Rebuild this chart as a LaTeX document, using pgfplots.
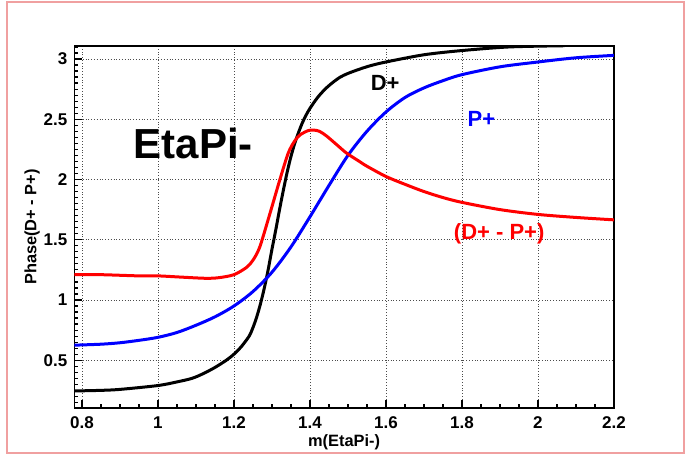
\documentclass[border=0pt]{standalone}
\usepackage{fontspec}
\setmainfont{Liberation Sans}
\usepackage{pgfplots}
\pgfplotsset{compat=1.18}
\definecolor{framepink}{RGB}{240,160,160}
\begin{document}
\begin{tikzpicture}
\begin{axis}[
    scale only axis,
    width=269.85pt, height=181pt,
    xmin=0.78, xmax=2.2,
    ymin=0.104, ymax=3.108,
    xtick={0.8,1,1.2,1.4,1.6,1.8,2,2.2},
    ytick={0.5,1,1.5,2,2.5,3},
    minor xtick={0.8,0.85,...,2.2},
    minor ytick={0.15,0.2,...,3.1},
    tick pos=left,
    tick align=inside,
    major tick length=4pt, minor tick length=2pt,
    tick style={black, line width=0.6pt},
    axis line style={line width=0.8pt},
    grid=major,
    grid style={densely dotted, black!70, line width=0.4pt},
    /pgf/number format/assume math mode=true,
    tick label style={font=\bfseries\fontsize{8.5}{10}\selectfont},
    xticklabel style={yshift=-1pt},
    xlabel={m(EtaPi-)},
    ylabel={Phase(D+ - P+)},
    xlabel style={font=\bfseries\fontsize{8.2}{9}\selectfont, at={(axis description cs:0.5,-0.095)}, anchor=center},
    ylabel style={font=\bfseries\fontsize{8.2}{9}\selectfont, at={(axis description cs:-0.078,0.5)}, anchor=center, rotate=0},
]
% D+ (black)
\addplot[black, line width=1.5pt, smooth] coordinates {
    (0.78,0.245) (0.85,0.25) (0.9,0.258) (1.0,0.29) (1.05,0.32) (1.09,0.35)
    (1.12,0.39) (1.15,0.44) (1.18,0.50) (1.2,0.55) (1.22,0.615) (1.24,0.70)
    (1.25,0.77) (1.26,0.86) (1.27,0.97) (1.28,1.10) (1.29,1.25) (1.30,1.42)
    (1.31,1.58) (1.32,1.75) (1.33,1.91) (1.34,2.06) (1.35,2.19) (1.36,2.30)
    (1.37,2.39) (1.38,2.47) (1.39,2.535) (1.40,2.59) (1.42,2.68) (1.44,2.75)
    (1.46,2.805) (1.48,2.85) (1.50,2.88) (1.53,2.915) (1.56,2.945) (1.6,2.975)
    (1.7,3.035) (1.8,3.07) (1.925,3.10) (2.07,3.11)
};
% P+ (blue)
\addplot[blue, line width=1.5pt, smooth] coordinates {
    (0.78,0.625) (0.85,0.633) (0.9,0.645) (0.95,0.665) (1.0,0.69) (1.05,0.73)
    (1.1,0.79) (1.15,0.86) (1.2,0.95) (1.25,1.07) (1.3,1.23) (1.35,1.44)
    (1.4,1.69) (1.45,1.95) (1.5,2.2) (1.55,2.4) (1.6,2.56) (1.65,2.68)
    (1.7,2.76) (1.75,2.82) (1.8,2.87) (1.9,2.935) (2.0,2.975) (2.1,3.01) (2.2,3.03)
};
% D+ - P+ (red)
\addplot[red, line width=1.5pt, smooth] coordinates {
    (0.78,1.21) (0.85,1.21) (0.95,1.2) (1.0,1.2) (1.06,1.19) (1.125,1.18)
    (1.16,1.185) (1.2,1.21) (1.233,1.27) (1.25,1.33) (1.268,1.44) (1.295,1.72)
    (1.321,2.0) (1.343,2.22) (1.36,2.32) (1.374,2.37) (1.395,2.405) (1.409,2.41)
    (1.425,2.40) (1.444,2.36) (1.47,2.29) (1.496,2.22) (1.53,2.15) (1.55,2.11)
    (1.6,2.025) (1.65,1.96) (1.7,1.90) (1.75,1.85) (1.8,1.81) (1.9,1.75)
    (2.0,1.71) (2.1,1.685) (2.2,1.665)
};
\node[font=\bfseries\fontsize{21}{24}\selectfont] at (axis cs:1.093,2.3) {EtaPi-};
\node[font=\bfseries\fontsize{11}{12}\selectfont, black] at (axis cs:1.598,2.80) {D+};
\node[font=\bfseries\fontsize{11}{12}\selectfont, blue] at (axis cs:1.851,2.50) {P+};
\node[font=\bfseries\fontsize{11}{12}\selectfont, red] at (axis cs:1.898,1.55) {(D+ - P+)};
\coordinate (fa) at (rel axis cs:-0.1247,-0.1243);
\coordinate (fb) at (rel axis cs:1.1297,1.1215);
\coordinate (pa) at (rel axis cs:-0.1377,-0.1354);
\coordinate (pb) at (rel axis cs:1.139,1.127);
\end{axis}
\draw[framepink, line width=0.6pt] (fa) rectangle (fb);
\path (pa) rectangle (pb);
\end{tikzpicture}
\end{document}
